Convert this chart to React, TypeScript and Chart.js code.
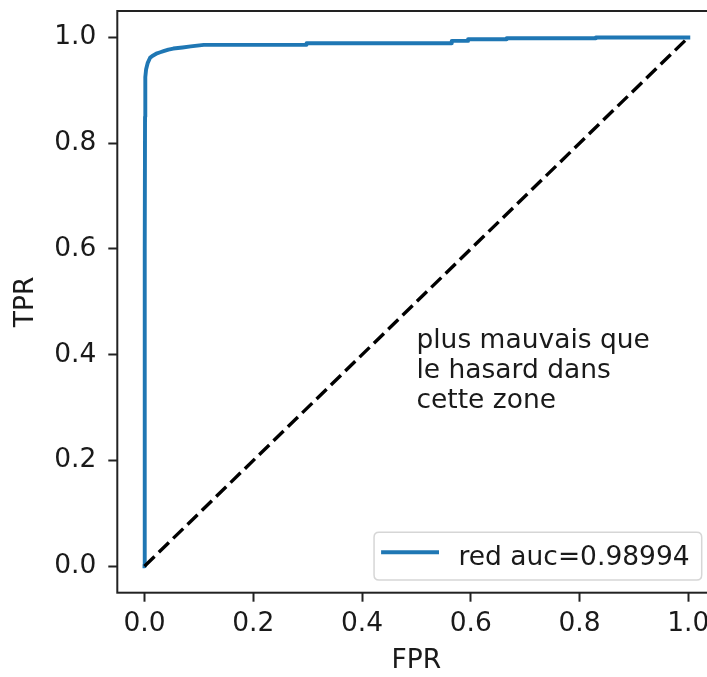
import React, { useEffect, useRef } from 'react';
import { Chart, registerables } from 'chart.js';

Chart.register(...registerables);

// ROC curve
const fpr = [0, 0.0003, 0.0006, 0.001, 0.0015, 0.003, 0.006, 0.0105, 0.016, 0.023, 0.029, 0.035, 0.044, 0.053, 0.07, 0.085, 0.109, 0.298, 0.298, 0.565, 0.565, 0.595, 0.595, 0.666, 0.666, 0.83, 0.83, 1.0];
const tpr = [0, 0.3, 0.6, 0.85, 0.925, 0.94, 0.952, 0.962, 0.966, 0.970, 0.972, 0.974, 0.977, 0.979, 0.981, 0.983, 0.986, 0.986, 0.989, 0.989, 0.9935, 0.9935, 0.9965, 0.9965, 0.9985, 0.9985, 1.0, 1.0];
const diagX = [0, 1];
const diagY = [0, 1];
const xTicks = [0, 0.2, 0.4, 0.6, 0.8, 1.0];
const yTicks = [0, 0.2, 0.4, 0.6, 0.8, 1.0];
const rocLabel = 'red auc=0.98994';
const annotationLines = ['plus mauvais que', 'le hasard dans', 'cette zone'];
const annotationX = 0.5;
const annotationY = 0.3;

const FONT = "'DejaVu Sans', sans-serif";
const FS = 26.5;
const INK = '#1a1a1a';
const BLUE = '#1f77b4';

export default function App() {
  const ref = useRef<HTMLCanvasElement>(null);

  useEffect(() => {
    const overlay = {
      id: 'overlay',
      afterDraw(chart: any) {
        const { ctx, chartArea: ca, scales } = chart;
        const xs = scales.x;
        const ys = scales.y;
        ctx.save();
        // frame
        ctx.strokeStyle = '#222';
        ctx.lineWidth = 2;
        ctx.strokeRect(ca.left, ca.top, ca.right - ca.left, ca.bottom - ca.top);
        // annotation
        ctx.font = `${FS}px ${FONT}`;
        ctx.fillStyle = INK;
        ctx.textAlign = 'left';
        ctx.textBaseline = 'alphabetic';
        const ax = xs.getPixelForValue(annotationX);
        const ay = ys.getPixelForValue(annotationY);
        const n = annotationLines.length;
        annotationLines.forEach((t, i) => {
          ctx.fillText(t, ax, ay - (n - 1 - i) * 30);
        });
        // legend
        const ds = chart.data.datasets[0];
        const tw = ctx.measureText(ds.label).width;
        const bw = 84.4 + tw + 12;
        const bh = 47.7;
        const right = ca.right - 13.8;
        const bottom = ca.bottom - 12.7;
        const left = right - bw;
        const top = bottom - bh;
        const r = 5;
        ctx.beginPath();
        ctx.moveTo(left + r, top);
        ctx.lineTo(right - r, top);
        ctx.quadraticCurveTo(right, top, right, top + r);
        ctx.lineTo(right, bottom - r);
        ctx.quadraticCurveTo(right, bottom, right - r, bottom);
        ctx.lineTo(left + r, bottom);
        ctx.quadraticCurveTo(left, bottom, left, bottom - r);
        ctx.lineTo(left, top + r);
        ctx.quadraticCurveTo(left, top, left + r, top);
        ctx.closePath();
        ctx.fillStyle = 'rgba(255,255,255,0.8)';
        ctx.fill();
        ctx.strokeStyle = '#d6d6d6';
        ctx.lineWidth = 1.5;
        ctx.stroke();
        ctx.beginPath();
        ctx.strokeStyle = ds.borderColor;
        ctx.lineWidth = ds.borderWidth;
        ctx.lineCap = 'square';
        ctx.moveTo(left + 9, top + 20);
        ctx.lineTo(left + 63, top + 20);
        ctx.stroke();
        ctx.fillStyle = INK;
        ctx.fillText(ds.label, left + 84.4, top + 32.5);
        ctx.restore();
      },
    };

    const tickFont = { family: FONT, size: FS };
    const chart = new Chart(ref.current as HTMLCanvasElement, {
      type: 'line',
      data: {
        datasets: [
          {
            label: rocLabel,
            data: fpr.map((x, i) => ({ x, y: tpr[i] })),
            borderColor: BLUE,
            borderWidth: 3.9,
            pointRadius: 0,
            fill: false,
            tension: 0,
            borderCapStyle: 'square',
            borderJoinStyle: 'round',
            order: 1,
          },
          {
            label: 'diag',
            data: diagX.map((x, i) => ({ x, y: diagY[i] })),
            borderColor: '#000',
            borderWidth: 3.4,
            borderDash: [14, 6],
            pointRadius: 0,
            fill: false,
            borderCapStyle: 'butt',
            order: 0,
          },
        ],
      },
      options: {
        responsive: false,
        animation: false,
        devicePixelRatio: 1,
        layout: { padding: { top: 11, right: 4.5, left: 0, bottom: 0 } },
        plugins: { legend: { display: false }, tooltip: { enabled: false } },
        scales: {
          x: {
            type: 'linear',
            min: -0.05,
            max: 1.05,
            afterBuildTicks: (s: any) => {
              s.ticks = xTicks.map((v) => ({ value: v }));
            },
            afterFit: (s: any) => {
              s.height = 84.3;
              s.paddingLeft = 0;
              s.paddingRight = 0;
            },
            ticks: {
              callback: (v: any) => Number(v).toFixed(1),
              font: tickFont,
              color: INK,
              padding: 7,
              maxRotation: 0,
              autoSkip: false,
            },
            grid: {
              display: true,
              drawOnChartArea: false,
              drawTicks: true,
              tickLength: 9,
              tickWidth: 2,
              tickColor: '#222',
            },
            border: { display: false },
            title: {
              display: true,
              text: 'FPR',
              font: tickFont,
              color: INK,
              padding: { top: 0, bottom: 0 },
            },
          },
          y: {
            type: 'linear',
            min: -0.05,
            max: 1.05,
            afterBuildTicks: (s: any) => {
              s.ticks = yTicks.map((v) => ({ value: v }));
            },
            afterFit: (s: any) => {
              s.width = 117.3;
              s.paddingTop = 0;
              s.paddingBottom = 0;
            },
            ticks: {
              callback: (v: any) => Number(v).toFixed(1),
              font: tickFont,
              color: INK,
              padding: 12,
              autoSkip: false,
            },
            grid: {
              display: true,
              drawOnChartArea: false,
              drawTicks: true,
              tickLength: 9,
              tickWidth: 2,
              tickColor: '#222',
            },
            border: { display: false },
            title: {
              display: true,
              text: 'TPR',
              font: tickFont,
              color: INK,
              padding: { top: 10.5, bottom: 0 },
            },
          },
        },
      },
      plugins: [overlay],
    } as any);
    return () => chart.destroy();
  }, []);

  return (
    <div
      style={{
        position: 'fixed',
        left: 0,
        top: 0,
        width: 707,
        height: 677,
        overflow: 'hidden',
        background: '#fff',
      }}
    >
      <canvas ref={ref} width={720} height={677} style={{ display: 'block', width: 720, height: 677 }} />
    </div>
  );
}
